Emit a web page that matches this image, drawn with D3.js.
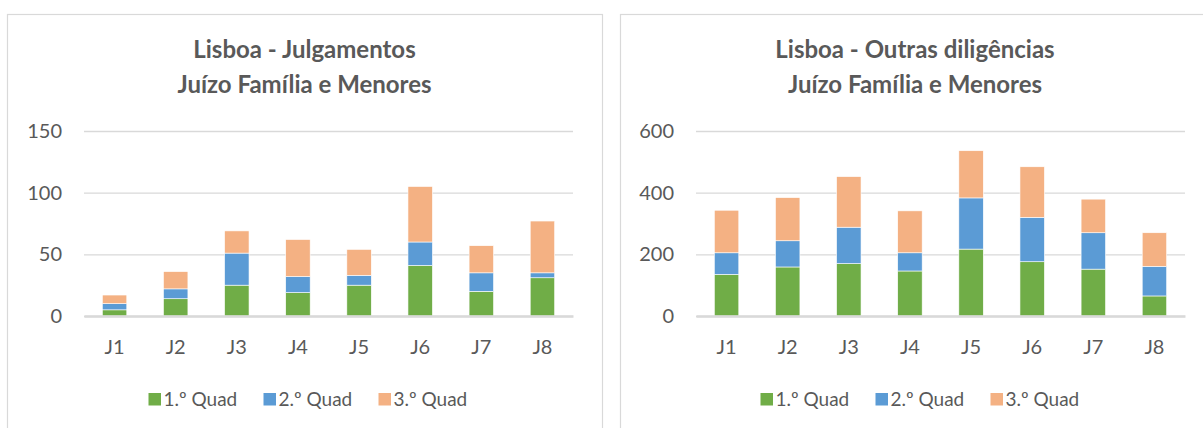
<!DOCTYPE html>
<html>
<head>
<meta charset="utf-8">
<script src="https://cdn.jsdelivr.net/npm/d3@7"></script>
<style>
	html, body { margin: 0; padding: 0; background: #ffffff; }
	svg { display: block; }
	text { font-family: Lato, "Open Sans", sans-serif; fill: #595959; }
</style>
</head>
<body>
<div id="charts"></div>
<script>
//------------------------------------------------------------------------------
// Data
//------------------------------------------------------------------------------

var categories = ["J1", "J2", "J3", "J4", "J5", "J6", "J7", "J8"];
var series_names = ["1.º Quad", "2.º Quad", "3.º Quad"];
var series_colors = ["#70ad47", "#5b9bd5", "#f4b183"];

// Lisboa - Julgamentos
var julg_q1 = [5, 14, 25, 19, 25, 41, 20, 31];
var julg_q2 = [5, 8, 26, 13, 8, 19, 15, 4];
var julg_q3 = [7, 14, 18, 30, 21, 45, 22, 42];
var julg_ticks = [0, 50, 100, 150];

// Lisboa - Outras diligencias
var outras_q1 = [135, 159, 170, 146, 217, 176, 152, 65];
var outras_q2 = [70, 85, 118, 59, 166, 144, 118, 96];
var outras_q3 = [138, 140, 164, 136, 153, 164, 109, 109];
var outras_ticks = [0, 200, 400, 600];


//------------------------------------------------------------------------------
// Plotting functions
//------------------------------------------------------------------------------

function build_rows(q1, q2, q3) {
	return categories.map(function(c, i) {
		var row = {cat: c};
		row[series_names[0]] = q1[i];
		row[series_names[1]] = q2[i];
		row[series_names[2]] = q3[i];
		return row;
	});
}

function plot_chart(svg, opts) {
	var g = svg.append("g");

	// chart area border (Excel style)
	g.append("rect")
		.attr("x", opts.box_x + 0.5)
		.attr("y", 14.5)
		.attr("width", opts.box_w)
		.attr("height", 440)
		.attr("fill", "none")
		.attr("stroke", "#d9d9d9")
		.attr("stroke-width", 1.2);

	var box_cx = opts.box_x + opts.box_w / 2;

	// title
	var title = g.append("text")
		.attr("text-anchor", "middle")
		.style("font-size", "24px")
		.style("font-weight", "bold");
	title.append("tspan").attr("x", box_cx).attr("y", 58).text(opts.title1);
	title.append("tspan").attr("x", box_cx).attr("y", 93).text(opts.title2);

	var x = d3.scaleBand()
		.domain(categories)
		.range([opts.plot_l, opts.plot_r])
		.paddingInner(0.6)
		.paddingOuter(0.3);

	var y = d3.scaleLinear()
		.domain([0, d3.max(opts.ticks)])
		.range([316, 131]);

	// gridlines + y labels
	var y_axis = d3.axisLeft(y)
		.tickValues(opts.ticks)
		.tickSize(-(opts.plot_r - opts.plot_l))
		.tickPadding(22);

	var ya = g.append("g")
		.attr("transform", "translate(" + opts.plot_l + ",0)")
		.call(y_axis);
	ya.select(".domain").remove();
	ya.selectAll("line").attr("stroke", "#d9d9d9").attr("stroke-width", 1.3);
	ya.selectAll("text")
		.style("font-size", "20px")
		.style("font-family", "Lato, 'Open Sans', sans-serif")
		.attr("fill", "#595959");

	// stacked bars
	var rows = build_rows(opts.q1, opts.q2, opts.q3);
	var stacked = d3.stack().keys(series_names)(rows);

	g.selectAll(".layer")
		.data(stacked)
		.enter().append("g")
		.attr("fill", function(d, i) { return series_colors[i]; })
		.selectAll("rect")
		.data(function(d) { return d; })
		.enter().append("rect")
		.attr("x", function(d) { return x(d.data.cat); })
		.attr("width", x.bandwidth())
		.attr("y", function(d) { return y(d[1]); })
		.attr("height", function(d) { return y(d[0]) - y(d[1]); })
		.attr("stroke", "#ffffff")
		.attr("stroke-width", 0.6);

	// category axis
	var x_axis = d3.axisBottom(x)
		.tickSize(0)
		.tickSizeOuter(0)
		.tickPadding(24);

	var xa = g.append("g")
		.attr("transform", "translate(0,316)")
		.call(x_axis);
	xa.select(".domain").attr("stroke", "#d9d9d9").attr("stroke-width", 2.5);
	xa.selectAll("text")
		.style("font-size", "20px")
		.style("font-family", "Lato, 'Open Sans', sans-serif")
		.attr("fill", "#595959");

	// legend
	var item_w = 115;
	var leg_x0 = opts.legend_cx - (item_w * 3 - 24) / 2;
	var leg = g.append("g")
		.attr("transform", "translate(" + leg_x0 + ",393)");

	var item = leg.selectAll("g")
		.data(series_names)
		.enter().append("g")
		.attr("transform", function(d, i) { return "translate(" + (i * item_w) + ",0)"; });

	item.append("rect")
		.attr("width", 12.5)
		.attr("height", 12.5)
		.attr("fill", function(d, i) { return series_colors[i]; });

	item.append("text")
		.attr("x", 15)
		.attr("y", 12.5)
		.style("font-size", "19px")
		.text(function(d) { return d; });
}


//------------------------------------------------------------------------------
// Main
//------------------------------------------------------------------------------

function main() {
	var svg = d3.select("#charts")
		.append("svg")
		.attr("width", 1203)
		.attr("height", 428);

	plot_chart(svg, {
		box_x: 7, box_w: 595,
		plot_l: 84, plot_r: 573,
		legend_cx: 309,
		title1: "Lisboa - Julgamentos",
		title2: "Juízo Família e Menores",
		ticks: julg_ticks,
		q1: julg_q1, q2: julg_q2, q3: julg_q3
	});

	plot_chart(svg, {
		box_x: 620, box_w: 590,
		plot_l: 696, plot_r: 1185,
		legend_cx: 921,
		title1: "Lisboa - Outras diligências",
		title2: "Juízo Família e Menores",
		ticks: outras_ticks,
		q1: outras_q1, q2: outras_q2, q3: outras_q3
	});
}

// run 'main' when the page loads...
window.addEventListener('load', main, false);
</script>
</body>
</html>
